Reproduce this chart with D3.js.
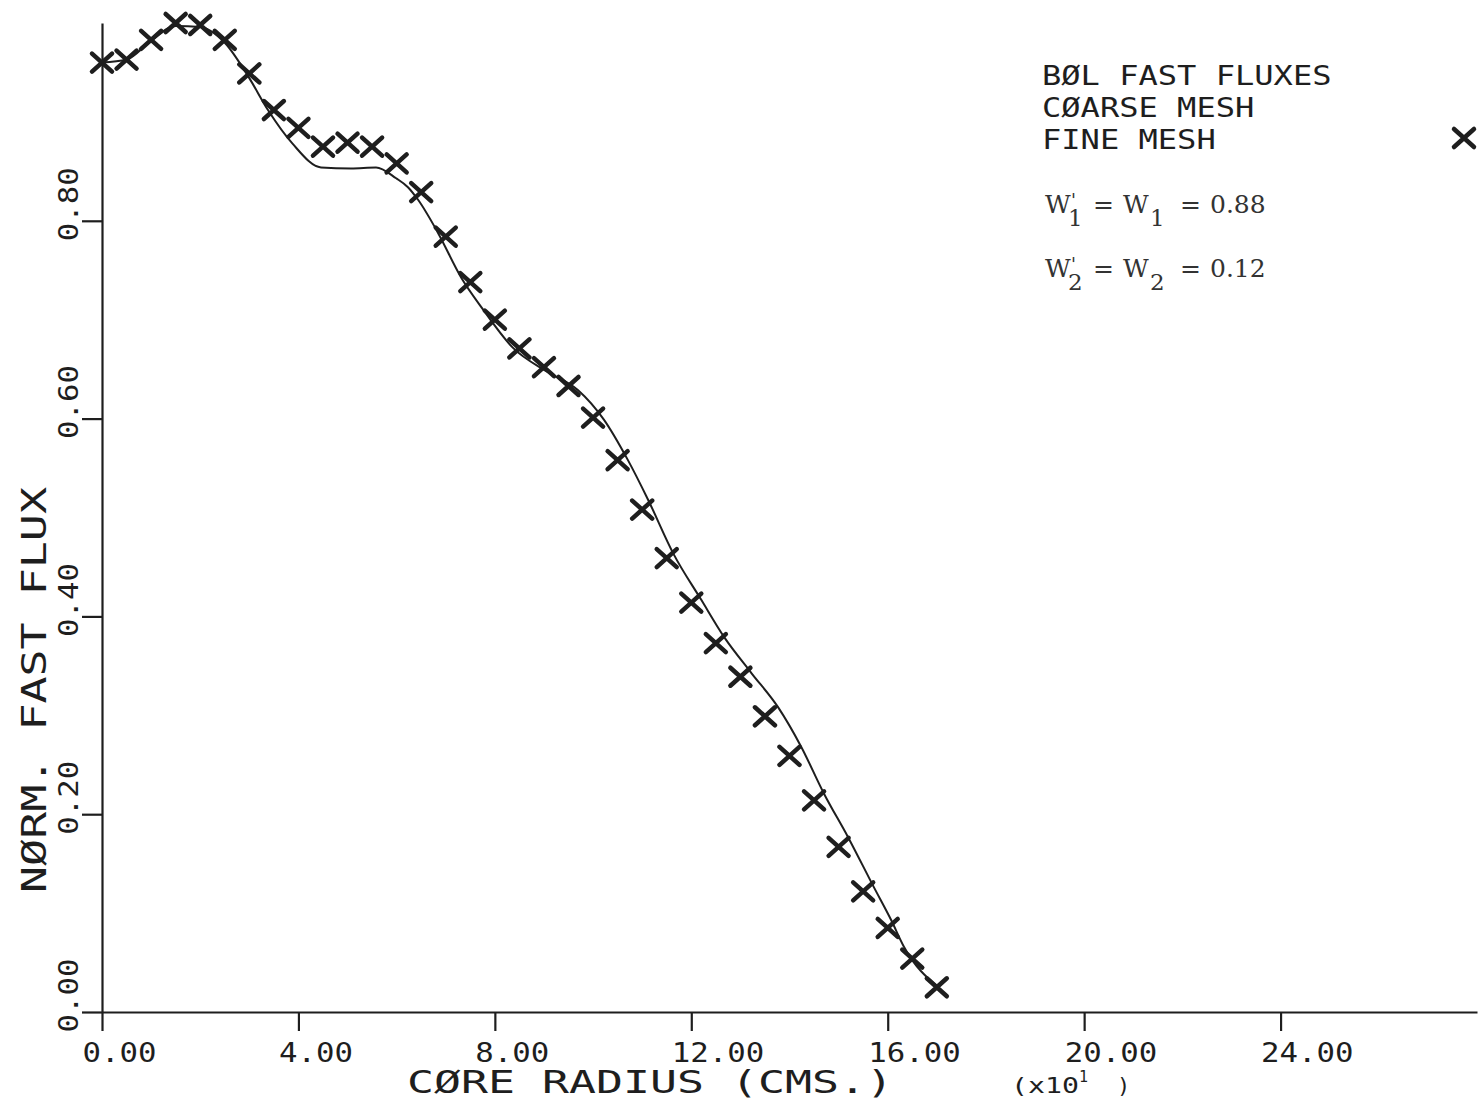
<!DOCTYPE html>
<meta charset="utf-8">
<title>BOL fast fluxes</title>
<style>
body {
  margin: 0;
  background: #fff;
}
svg {
  display: block;
}
.axis path, .axis line {
  stroke: #1e1e1e;
  stroke-width: 2.2px;
}
.plotter {
  font-family: "DejaVu Sans Mono", monospace;
  fill: #1e1e1e;
}
.typed {
  font-family: "DejaVu Serif", "Liberation Serif", serif;
  fill: #333;
}
.coarse {
  fill: none;
  stroke: #1e1e1e;
  stroke-width: 2px;
  stroke-linejoin: round;
}
.mark {
  fill: none;
  stroke: #1e1e1e;
  stroke-width: 4.5px;
  stroke-linecap: round;
}
</style>
<svg></svg>
<script src="https://d3js.org/d3.v7.min.js"></script>
<script>
// fine mesh points (x10^1 cm, normalised flux)
var radius = [0.0, 0.5, 1.0, 1.5, 2.0, 2.5, 3.0, 3.5, 4.0, 4.5, 5.0, 5.5, 6.0, 6.5, 7.0, 7.5, 8.0, 8.5,
              9.0, 9.5, 10.0, 10.5, 11.0, 11.5, 12.0, 12.5, 13.0, 13.5, 14.0, 14.5, 15.0, 15.5, 16.0, 16.5, 17.0];
var fineMesh = [0.960, 0.963, 0.983, 1.000, 0.998, 0.983, 0.949, 0.912, 0.894, 0.875, 0.879, 0.875, 0.858,
                0.829, 0.784, 0.738, 0.700, 0.671, 0.652, 0.633, 0.601, 0.558, 0.508, 0.459, 0.414, 0.373,
                0.339, 0.299, 0.259, 0.214, 0.167, 0.122, 0.085, 0.054, 0.025];
// coarse mesh curve
var coarseRadius = [0.0, 0.5, 1.0, 1.5, 2.0, 2.5, 2.99, 3.38, 3.88, 4.46, 5.07, 5.58, 5.99, 6.23, 6.44, 6.84,
                    7.31, 7.75, 8.36, 9.08, 9.69, 10.22, 10.71, 11.12, 11.64, 12.20, 12.67, 13.22, 13.77,
                    14.24, 14.70, 15.19, 15.72, 16.07, 16.33, 17.03];
var coarseMesh = [0.960, 0.963, 0.982, 0.997, 0.996, 0.980, 0.945, 0.912, 0.878, 0.854, 0.853, 0.854, 0.843,
                  0.834, 0.821, 0.788, 0.743, 0.711, 0.672, 0.647, 0.629, 0.599, 0.558, 0.518, 0.463, 0.417,
                  0.379, 0.343, 0.308, 0.268, 0.221, 0.177, 0.126, 0.093, 0.066, 0.025];
var xTicks = [0, 4, 8, 12, 16, 20, 24];
var yTicks = [0, 0.2, 0.4, 0.6, 0.8];
var legendLines = ["BØL FAST FLUXES", "CØARSE MESH", "FINE MESH"];
var weights = [["1", "0.88"], ["2", "0.12"]];

var width = 1482,
    height = 1109;
var svg = d3.select("svg")
    .attr("width", width)
    .attr("height", height);

var x = d3.scaleLinear().domain([0, 28]).range([102, 1477]);
var y = d3.scaleLinear().domain([0, 1]).range([1012, 23]);
var fmt = d3.format(".2f");
var xMark = "M-10,-9L10,9M-10,9L10,-9";

// x axis, labels start a little left of each tick
var gx = svg.append("g")
    .attr("class", "axis")
    .attr("transform", "translate(0," + y(0) + ")")
    .call(d3.axisBottom(x).tickValues(xTicks).tickSize(19).tickSizeOuter(0).tickFormat(fmt))
    .attr("font-family", null)
    .attr("font-size", null);
gx.selectAll("text")
    .attr("class", "plotter")
    .attr("fill", null)
    .attr("text-anchor", "start")
    .attr("x", -20)
    .attr("y", 50)
    .attr("dy", null)
    .style("font-size", "27px")
    .attr("textLength", function(d) { return fmt(d).length * 18.5; })
    .attr("lengthAdjust", "spacingAndGlyphs");

// y axis, labels turned to read upward
var gy = svg.append("g")
    .attr("class", "axis")
    .attr("transform", "translate(" + x(0) + ",0)")
    .call(d3.axisLeft(y).tickValues(yTicks).tickSize(20).tickSizeOuter(0).tickFormat(fmt))
    .attr("font-family", null)
    .attr("font-size", null);
gy.selectAll("text")
    .attr("class", "plotter")
    .attr("fill", null)
    .attr("text-anchor", "start")
    .attr("x", 0)
    .attr("dy", null)
    .attr("transform", "translate(-24,20) rotate(-90)")
    .style("font-size", "27px")
    .attr("textLength", function(d) { return fmt(d).length * 18.5; })
    .attr("lengthAdjust", "spacingAndGlyphs");

// axis titles
svg.append("text")
    .attr("class", "plotter")
    .attr("x", 407)
    .attr("y", 1093)
    .style("font-size", "32px")
    .attr("textLength", 486)
    .attr("lengthAdjust", "spacingAndGlyphs")
    .text("CØRE RADIUS (CMS.)");

svg.append("text")
    .attr("class", "plotter")
    .attr("transform", "translate(46,893) rotate(-90)")
    .style("font-size", "34px")
    .attr("textLength", 406)
    .attr("lengthAdjust", "spacingAndGlyphs")
    .text("NØRM. FAST FLUX");

var mult = svg.append("g").attr("class", "plotter");
mult.append("text").attr("x", 1011).attr("y", 1093).style("font-size", "22px")
    .attr("textLength", 68).attr("lengthAdjust", "spacingAndGlyphs").text("(x10");
mult.append("text").attr("x", 1079).attr("y", 1082).style("font-size", "15px").text("1");
mult.append("text").attr("x", 1117).attr("y", 1093).style("font-size", "22px").text(")");

// coarse mesh curve
var line = d3.line()
    .x(function(d) { return x(d[0]); })
    .y(function(d) { return y(d[1]); })
    .curve(d3.curveMonotoneX);

svg.append("path")
    .datum(d3.zip(coarseRadius, coarseMesh))
    .attr("class", "coarse")
    .attr("d", line);

// fine mesh crosses
svg.append("g")
  .selectAll("path")
  .data(d3.zip(radius, fineMesh))
  .enter().append("path")
    .attr("class", "mark")
    .attr("transform", function(d) { return "translate(" + x(d[0]) + "," + y(d[1]) + ")"; })
    .attr("d", xMark);

// legend
var legend = svg.append("g");
legend.selectAll("text")
    .data(legendLines)
  .enter().append("text")
    .attr("class", "plotter")
    .attr("x", 1042)
    .attr("y", function(d, i) { return 85 + i * 32; })
    .style("font-size", "27px")
    .attr("textLength", function(d) { return d.length * 19.3; })
    .attr("lengthAdjust", "spacingAndGlyphs")
    .text(function(d) { return d; });
legend.append("path")
    .attr("class", "mark")
    .attr("transform", "translate(1464,138)")
    .attr("d", xMark);

// typed weight annotations
weights.forEach(function(w, i) {
  var g = svg.append("g")
      .attr("class", "typed")
      .attr("transform", "translate(0," + (213 + i * 64) + ")")
      .style("font-size", "25px");
  g.append("text").attr("x", 1045).text("W");
  g.append("text").attr("x", 1071).attr("y", -6).style("font-size", "18px").text("'");
  g.append("text").attr("x", 1068).attr("y", 13).style("font-size", "23px").text(w[0]);
  g.append("text").attr("x", 1093).text("=");
  g.append("text").attr("x", 1123).text("W");
  g.append("text").attr("x", 1150).attr("y", 13).style("font-size", "23px").text(w[0]);
  g.append("text").attr("x", 1180).text("=");
  g.append("text").attr("x", 1210).text(w[1]);
});
</script>
